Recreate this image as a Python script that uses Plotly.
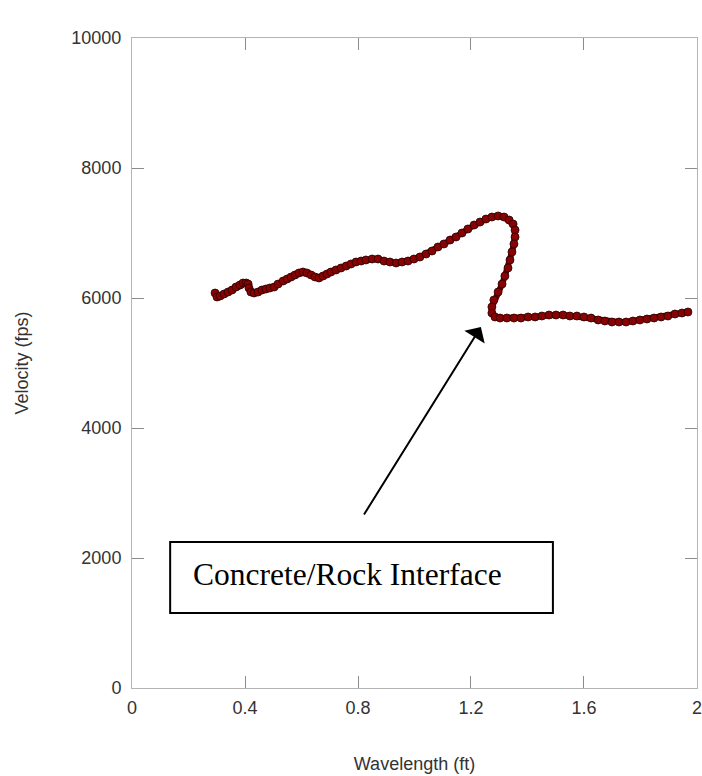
import plotly.graph_objects as go

# Dispersion curve: wavelength (ft) vs. phase velocity (fps)
wavelength_ft = [
    0.294, 0.301, 0.312, 0.326, 0.340, 0.354, 0.368, 0.382, 0.393, 0.404,
    0.411, 0.414, 0.421, 0.432, 0.446, 0.460, 0.474, 0.488, 0.503, 0.517,
    0.535, 0.549, 0.563, 0.577, 0.591, 0.605, 0.619, 0.634, 0.648, 0.662,
    0.676, 0.690, 0.704, 0.722, 0.740, 0.758, 0.775, 0.793, 0.811, 0.828,
    0.850, 0.871, 0.892, 0.913, 0.935, 0.956, 0.977, 0.998, 1.019, 1.041,
    1.062, 1.083, 1.104, 1.126, 1.147, 1.168, 1.189, 1.211, 1.232, 1.253,
    1.274, 1.296, 1.317, 1.335, 1.349, 1.356, 1.356, 1.352, 1.345, 1.338,
    1.331, 1.320, 1.310, 1.296, 1.281, 1.274, 1.274, 1.285, 1.303, 1.327,
    1.352, 1.377, 1.402, 1.427, 1.451, 1.476, 1.501, 1.526, 1.550, 1.575,
    1.600, 1.625, 1.650, 1.674, 1.699, 1.724, 1.749, 1.773, 1.798, 1.823,
    1.848, 1.873, 1.897, 1.922, 1.947, 1.968,
]
velocity_fps = [
    6077, 6015, 6031, 6062, 6092, 6123, 6169, 6200, 6231, 6231,
    6215, 6154, 6092, 6077, 6092, 6123, 6138, 6154, 6169, 6215,
    6262, 6292, 6323, 6354, 6385, 6400, 6385, 6354, 6323, 6308,
    6338, 6369, 6400, 6431, 6462, 6492, 6523, 6554, 6569, 6585,
    6600, 6600, 6569, 6554, 6538, 6554, 6569, 6600, 6631, 6677,
    6723, 6785, 6831, 6892, 6938, 7000, 7062, 7123, 7169, 7215,
    7246, 7262, 7246, 7200, 7138, 7046, 6938, 6831, 6708, 6585,
    6462, 6338, 6215, 6092, 5969, 5862, 5769, 5708, 5692, 5692,
    5692, 5692, 5708, 5708, 5723, 5738, 5738, 5738, 5723, 5723,
    5708, 5692, 5662, 5646, 5631, 5631, 5631, 5646, 5662, 5677,
    5692, 5708, 5723, 5754, 5769, 5785,
]

x_ticks = [0, 0.4, 0.8, 1.2, 1.6, 2]
x_tick_text = ["0", "0.4", "0.8", "1.2", "1.6", "2"]
y_ticks = [0, 2000, 4000, 6000, 8000, 10000]
y_tick_text = ["0", "2000", "4000", "6000", "8000", "10000"]

label_text = "Concrete/Rock Interface"
label_box_x = [0.135, 1.490]
label_box_y = [1154, 2246]
label_pos = (0.210, 1745)
arrow_tail = (0.818, 2646)
arrow_tip = (1.235, 5554)

fig = go.Figure()

fig.add_trace(go.Scatter(
    x=wavelength_ft,
    y=velocity_fps,
    mode="lines+markers",
    line=dict(color="#5a0505", width=6),
    marker=dict(size=8, color="#870303",
                line=dict(color="#2a0000", width=0.8)),
    hoverinfo="x+y",
    showlegend=False,
))

# Framed callout and its pointer
fig.add_shape(
    type="rect", xref="x", yref="y",
    x0=label_box_x[0], x1=label_box_x[1],
    y0=label_box_y[0], y1=label_box_y[1],
    line=dict(color="black", width=2),
    fillcolor="white", layer="above",
)
fig.add_annotation(
    x=label_pos[0], y=label_pos[1], xref="x", yref="y",
    text=label_text, showarrow=False,
    xanchor="left", yanchor="middle",
    font=dict(family="Liberation Serif, Times New Roman, serif",
              size=31.5, color="black"),
)
fig.add_annotation(
    x=arrow_tip[0], y=arrow_tip[1], ax=arrow_tail[0], ay=arrow_tail[1],
    xref="x", yref="y", axref="x", ayref="y",
    text="", showarrow=True,
    arrowhead=1, arrowsize=2, arrowwidth=2, arrowcolor="black",
)

axis_font = dict(family="Liberation Sans, Arial, sans-serif",
                 size=18, color="#333333")

fig.update_xaxes(
    range=[-0.0001, 2.0001], tickvals=x_ticks, ticktext=x_tick_text,
    automargin=False,
    showgrid=False, zeroline=False,
    showline=True, linecolor="#b4b4b4", linewidth=1, mirror="ticks",
    ticks="inside", ticklen=12, tickcolor="#8c8c8c", tickwidth=1,
    tickfont=axis_font, ticklabelstandoff=3,
    title=dict(text="Wavelength (ft)", font=axis_font, standoff=40),
)
fig.update_yaxes(
    range=[0, 10000], tickvals=y_ticks, ticktext=y_tick_text,
    automargin=False,
    showgrid=False, zeroline=False,
    showline=True, linecolor="#b4b4b4", linewidth=1, mirror="ticks",
    ticks="inside", ticklen=12, tickcolor="#8c8c8c", tickwidth=1,
    tickfont=axis_font, ticklabelstandoff=6,
    title=dict(text="Velocity (fps)", font=axis_font, standoff=38),
)

fig.update_layout(
    width=702, height=776,
    margin=dict(l=132, r=5, t=38, b=88),
    paper_bgcolor="white", plot_bgcolor="white",
)

fig.write_html("out.html")
